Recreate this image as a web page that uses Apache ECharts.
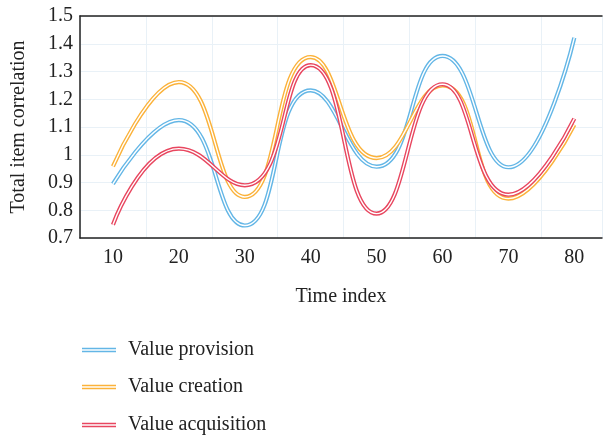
<!DOCTYPE html>
<html><head><meta charset="utf-8">
<script src="https://cdn.jsdelivr.net/npm/echarts@6/dist/echarts.min.js"></script>
<style>html,body{margin:0;padding:0;background:#fff}#c{width:605px;height:436px}</style>
</head><body><div id="c"></div>
<script>
const timeIndex = [10, 20, 30, 40, 50, 60, 70, 80];
const valueProvision = [0.895, 1.125, 0.745, 1.232, 0.957, 1.356, 0.955, 1.422];
const valueCreation = [0.958, 1.262, 0.848, 1.352, 0.988, 1.25, 0.842, 1.108];
const valueAcquisition = [0.748, 1.022, 0.89, 1.323, 0.788, 1.254, 0.856, 1.13];
const yTicks = [0.7, 0.8, 0.9, 1.0, 1.1, 1.2, 1.3, 1.4, 1.5];

const names = ['Value provision', 'Value creation', 'Value acquisition'];
const colors = ['#63b6e6', '#fbb23a', '#e8465f'];
const dataSets = [valueProvision, valueCreation, valueAcquisition];
const font = '"Liberation Serif", "DejaVu Serif", serif';
const FS = 20;

const series = [];
dataSets.forEach((d, i) => {
  const pts = timeIndex.map((x, j) => [x, d[j]]);
  series.push({
    name: names[i], type: 'line', smooth: 0.5, data: pts, symbol: 'none',
    lineStyle: { color: colors[i], width: 4.2 }, itemStyle: { color: colors[i] }, z: 2 + i * 2
  });
  series.push({
    name: names[i] + ' inner', type: 'line', smooth: 0.5, data: pts, symbol: 'none',
    lineStyle: { color: '#ffffff', width: 1.4 }, z: 3 + i * 2, silent: true
  });
});

const legendTops = [335, 372, 410];
const legends = names.map((n, i) => ({
  data: [{ name: n, icon: 'path://M0,0H30V1.2H0Z M0,2.6H30V3.8H0Z', itemStyle: { color: colors[i] } }],
  orient: 'vertical', left: 77, top: legendTops[i], itemWidth: 34, itemHeight: 5,
  textStyle: { fontFamily: font, fontSize: FS, color: '#222', padding: [0, 0, 0, 7] }
}));

const chart = echarts.init(document.getElementById('c'), null, { renderer: 'canvas' });
chart.setOption({
  animation: false,
  textStyle: { fontFamily: font },
  grid: { left: 80, right: 0, top: 16, bottom: 198 },
  legend: legends,
  xAxis: [{
    type: 'value', min: 5, max: 84.2, interval: 5,
    name: 'Time index', nameLocation: 'middle', nameGap: 49,
    nameTextStyle: { fontFamily: font, fontSize: FS, color: '#222' },
    axisLine: { show: true, onZero: false, lineStyle: { color: '#222', width: 1.5 } },
    axisTick: { show: false },
    axisLabel: { fontFamily: font, fontSize: FS, color: '#222', margin: 10,
      formatter: v => (v % 10 === 0 && v >= 10 && v <= 80) ? String(v) : '' },
    splitLine: { show: false }
  }, {
    type: 'value', min: 5, max: 84.2, interval: 10, position: 'top',
    axisLine: { show: true, onZero: false, lineStyle: { color: '#222', width: 1.5 } },
    axisTick: { show: false }, axisLabel: { show: false },
    splitLine: { show: true, lineStyle: { color: '#e9f1f7', width: 1 } }
  }],
  yAxis: {
    type: 'value', min: yTicks[0], max: yTicks[yTicks.length - 1], interval: 0.1,
    name: 'Total item correlation', nameLocation: 'middle', nameGap: 51,
    nameTextStyle: { fontFamily: font, fontSize: FS, color: '#222' },
    axisLine: { show: true, onZero: false, lineStyle: { color: '#222', width: 1.5 } },
    axisTick: { show: false },
    axisLabel: { fontFamily: font, fontSize: FS, color: '#222', margin: 7,
      formatter: v => { const r = Math.round(v * 10) / 10; return String(r); } },
    splitLine: { show: true, lineStyle: { color: '#e9f1f7', width: 1 } }
  },
  series: series
});
</script></body></html>
